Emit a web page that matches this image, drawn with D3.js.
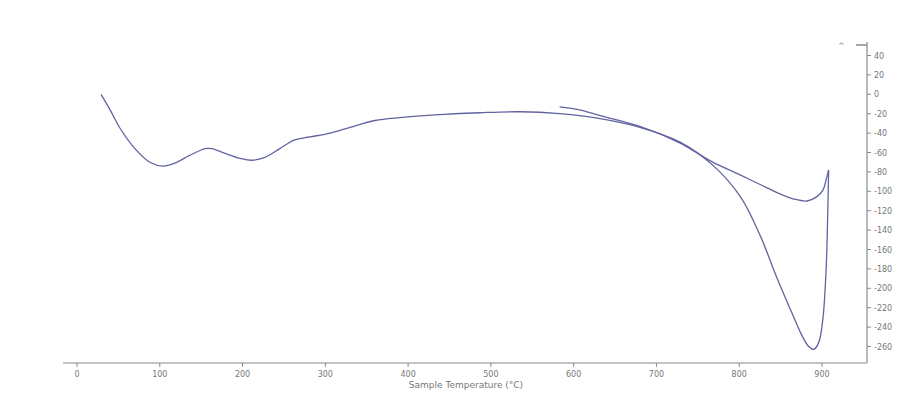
<!DOCTYPE html>
<html><head><meta charset="utf-8">
<script src="https://cdn.jsdelivr.net/npm/d3@7/dist/d3.min.js"></script>
<style>body{margin:0;background:#fff}svg{display:block}</style>
</head><body><svg id="c" width="903" height="398"></svg>
<script>
// Heating run: [temperature °C, heat flow]
const heatT = [29,40,52,70,88,104,118,136,155,163,179,197,211,227,245,263,281,306,330,360,390,438,487,535,583,632,680,728,768,801,825,845,865,876,884,890,896,901,905,907,908];
const heatV = [0,-16,-35,-56,-70,-74,-71,-63,-56,-56,-61,-66,-68,-65,-56,-47,-44,-40,-34,-27,-24,-21,-19,-18,-20,-25,-34,-49,-73,-105,-145,-188,-228,-249,-260,-263,-256,-232,-180,-120,-78];
// Cooling run
const coolT = [908,905,901,893,882,866,850,835,801,768,728,680,632,607,583];
const coolV = [-78,-88,-99,-106,-110,-108,-103,-97,-83,-70,-50,-33,-22,-16,-13];
const xTicks = [0,100,200,300,400,500,600,700,800,900];
const yTicks = [40,20,0,-20,-40,-60,-80,-100,-120,-140,-160,-180,-200,-220,-240,-260];
const xTitle = "Sample Temperature (°C)";

const svg = d3.select("#c");
const x = d3.scaleLinear().domain([0,900]).range([77,822]);
const y = d3.scaleLinear().domain([-260,40]).range([346.5,55.5]);
const axisCol = "#8a8a8a", textCol = "#777";

// bottom axis
const gx = svg.append("g").attr("transform","translate(0,363)");
gx.append("line").attr("x1",63).attr("x2",867).attr("stroke",axisCol).attr("stroke-width",1.2);
gx.selectAll("line.t").data(xTicks).join("line").attr("class","t")
  .attr("x1",d=>x(d)).attr("x2",d=>x(d)).attr("y1",0).attr("y2",4).attr("stroke",axisCol);
gx.selectAll("text").data(xTicks).join("text")
  .attr("x",d=>x(d)).attr("y",14).attr("text-anchor","middle")
  .attr("font-family","DejaVu Sans, sans-serif").attr("font-size",8).attr("fill",textCol).text(d=>d);
svg.append("text").attr("x",466).attr("y",388).attr("text-anchor","middle")
  .attr("font-family","DejaVu Sans, sans-serif").attr("font-size",9).attr("fill",textCol).text(xTitle);

// right axis
const gy = svg.append("g").attr("transform","translate(867,0)");
gy.append("line").attr("y1",42).attr("y2",363).attr("stroke",axisCol).attr("stroke-width",1.2);
gy.append("line").attr("x1",-11).attr("x2",0).attr("y1",45).attr("y2",45).attr("stroke",axisCol).attr("stroke-width",1.5);
gy.selectAll("line.t").data(yTicks).join("line").attr("class","t")
  .attr("x1",0).attr("x2",4).attr("y1",d=>y(d)).attr("y2",d=>y(d)).attr("stroke",axisCol);
gy.selectAll("text").data(yTicks).join("text")
  .attr("x",7).attr("y",d=>y(d)+3).attr("text-anchor","start")
  .attr("font-family","DejaVu Sans, sans-serif").attr("font-size",8).attr("fill",textCol).text(d=>d);
svg.append("text").attr("x",838).attr("y",49).attr("font-family","DejaVu Sans, sans-serif")
  .attr("font-size",8).attr("fill","#999").text("^");

// curves
const line = d3.line().x(d=>x(d[0])).y(d=>y(d[1])).curve(d3.curveCatmullRom.alpha(0.5));
const heat = heatT.map((t,i)=>[t,heatV[i]]);
const cool = coolT.map((t,i)=>[t,coolV[i]]);
[heat,cool].forEach(d=>{
  svg.append("path").datum(d).attr("d",line).attr("fill","none")
    .attr("stroke","#6063a0").attr("stroke-width",1.3).attr("stroke-linejoin","round");
});
</script></body></html>
